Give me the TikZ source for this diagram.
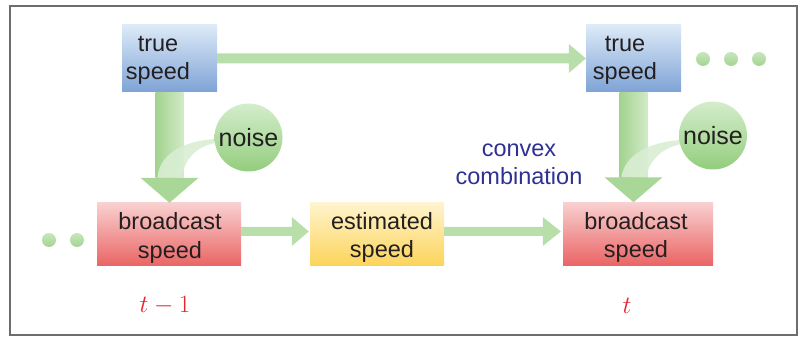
\documentclass[tikz,border=0pt]{standalone}
\usepackage{fontspec}
\setmainfont{Liberation Sans}
\usetikzlibrary{calc}
\definecolor{framec}{HTML}{6D6D6D}
\definecolor{textc}{HTML}{231F20}
\definecolor{bluet}{HTML}{DDEAF7}
\definecolor{blueb}{HTML}{7EA3D6}
\definecolor{redt}{HTML}{F9D0D0}
\definecolor{redb}{HTML}{EA6464}
\definecolor{yelt}{HTML}{FFF4CD}
\definecolor{yelb}{HTML}{FCD45A}
\definecolor{hgreen}{HTML}{B8DEA9}
\definecolor{vgl}{HTML}{A2D38E}
\definecolor{vgr}{HTML}{D2EAC8}
\definecolor{headc}{HTML}{A9D797}
\definecolor{bandc}{HTML}{D9EED3}
\definecolor{ngt}{HTML}{D4EDCC}
\definecolor{ngb}{HTML}{93CD7D}
\definecolor{navy}{HTML}{2E3192}
\definecolor{redlab}{HTML}{E8202A}
\begin{document}
\begin{tikzpicture}[x=1pt,y=1pt,
  boxnode/.style={rectangle, inner sep=0pt, draw=none},
  txt/.style={font=\fontsize{23.5}{28.5}\selectfont, align=center, text=textc, inner sep=0pt},
  noisenode/.style={circle, minimum size=68pt, inner sep=0pt, top color=ngt, bottom color=ngb, font=\fontsize{25}{29}\selectfont, text=textc},
  dotnode/.style={circle, minimum size=14pt, inner sep=0pt, top color=ngt!80!ngb, bottom color=ngb!85},
  tlab/.style={text=redlab, inner sep=0pt, font=\fontsize{28}{32}\selectfont}]
\useasboundingbox (0,0) rectangle (804,337);
\draw[framec, line width=1.5pt] (10,2) rectangle (797,331);

% boxes
\node[boxnode, top color=bluet, bottom color=blueb, minimum width=95pt, minimum height=67pt] (tl) at (169.5,278.5) {};
\node[boxnode, top color=bluet, bottom color=blueb, minimum width=95pt, minimum height=67pt] (tr) at (633.5,278.5) {};
\node[boxnode, top color=redt, bottom color=redb, minimum width=144pt, minimum height=63pt] (bl) at (169,102.5) {};
\node[boxnode, top color=yelt, bottom color=yelb, minimum width=134pt, minimum height=63pt] (es) at (377,102.5) {};
\node[boxnode, top color=redt, bottom color=redb, minimum width=150pt, minimum height=63pt] (br) at (638,103) {};

\node[txt] (tlt) at (158,276.5) {true\\speed};
\node[txt] (trt) at (625,276.5) {true\\speed};
\node[txt] (blt) at (170,99) {broadcast\\speed};
\node[txt] (est) at (382,99.5) {estimated\\speed};
\node[txt] (brt) at (636,99.5) {broadcast\\speed};

% top horizontal arrow
\fill[hgreen] ($(tl.east)+(0,5)$) -- ($(tr.west)+(-17,5)$) -- ($(tr.west)+(-17,14.5)$) -- (tr.west)
  -- ($(tr.west)+(-17,-14.5)$) -- ($(tr.west)+(-17,-5)$) -- ($(tl.east)+(0,-5)$) -- cycle;

% bottom horizontal arrows
\fill[hgreen] ($(bl.east)+(0,7.5)$) -- ($(es.west)+(-18,7.5)$) -- ($(es.west)+(-18,17.5)$) -- ($(es.west)+(-1,3)$)
  -- ($(es.west)+(-18,-11.5)$) -- ($(es.west)+(-18,-1.5)$) -- ($(bl.east)+(0,-1.5)$) -- cycle;
\coordinate (bw) at (br.west|-es.east);
\fill[hgreen] ($(es.east)+(0,7.5)$) -- ($(bw)+(-20,7.5)$) -- ($(bw)+(-20,17.5)$) -- ($(bw)+(-2,3)$)
  -- ($(bw)+(-20,-11.5)$) -- ($(bw)+(-20,-1.5)$) -- ($(es.east)+(0,-1.5)$) -- cycle;

\coordinate (va) at (tl.south|-bl.north);
\coordinate (vb) at (tr.south|-br.north);

% vertical shafts
\shade[left color=vgl, right color=vgr] ($(tl.south)+(-14,0)$) rectangle ($(va)+(14,25)$);
\shade[left color=vgl, right color=vgr] ($(tr.south)+(-14,0)$) rectangle ($(vb)+(14,25)$);

% curved bands from noise
\fill[bandc, opacity=0.9] (215,198) .. controls (182,196) and (159,182) .. ($(va)+(-12,25)$)
  -- ($(va)+(13,25)$) .. controls (183,176) and (196,191) .. (216,194) -- cycle;
\fill[bandc, opacity=0.9] (681,197) .. controls (648,195) and (624,181) .. ($(vb)+(-12,25)$)
  -- ($(vb)+(13,25)$) .. controls (648,175) and (662,190) .. (682,193) -- cycle;

% heads
\fill[headc] ($(va)+(-29,25)$) -- (va) -- ($(va)+(29,25)$) -- cycle;
\fill[headc] ($(vb)+(-29,25)$) -- (vb) -- ($(vb)+(29,25)$) -- cycle;

\node[noisenode] (n1) at (248.5,199.5) {noise};
\node[noisenode] (n2) at (713,201.5) {noise};

% dots
\node[dotnode] (d1) at (49,97) {};
\node[dotnode] (d2) at (77,97) {};
\node[dotnode] (d3) at (703,278) {};
\node[dotnode] (d4) at (731,278) {};
\node[dotnode] (d5) at (759,278) {};

% labels
\node[font=\fontsize{23.5}{28}\selectfont, text=navy, align=center, inner sep=0pt] (cc) at (519,173) {convex\\combination};
\node[tlab] (t1) at (165,31) {$t-1$};
\node[tlab] (t2) at (627,31) {$t$};
\end{tikzpicture}
\end{document}
